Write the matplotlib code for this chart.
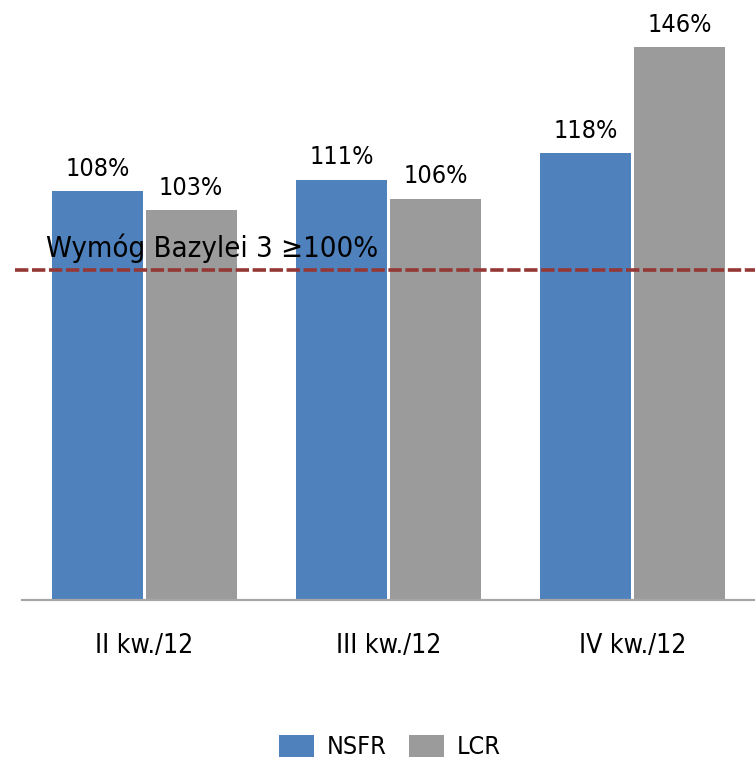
import matplotlib
matplotlib.use("Agg")
import matplotlib.pyplot as plt
from matplotlib import font_manager
import matplotlib.transforms as mtransforms
import numpy as np

# ---- data ----
categories = ["II kw./12", "III kw./12", "IV kw./12"]
series_names = ["NSFR", "LCR"]
nsfr = [108, 111, 118]
lcr = [103, 106, 146]
threshold_label = "Wymóg Bazylei 3 ≥100%"
threshold_line_value = 87.3   # where the dashed line is drawn on the picture

cond = [f for f in font_manager.fontManager.ttflist
        if f.name == "DejaVu Sans" and f.stretch == "condensed" and f.weight in (400, "normal")]
if cond:
    plt.rcParams["font.family"] = ["DejaVu Sans"]
    plt.rcParams["font.stretch"] = "condensed"
    fs_val, fs_tick, fs_leg, fs_lab = 18, 19, 18, 21
else:
    plt.rcParams["font.family"] = ["Liberation Sans", "DejaVu Sans"]
    fs_val, fs_tick, fs_leg, fs_lab = 18, 19, 18, 22

blue = "#4F81BD"
gray = "#9B9B9B"
red = "#953735"

fig = plt.figure(figsize=(7.55, 7.62), dpi=100)
ax = fig.add_axes([22/755, 162/762, 733/755, 600/762])

x = np.arange(len(categories))
w = 0.372
off = 0.192
b1 = ax.bar(x - off, nsfr, w, color=blue, label=series_names[0])
b2 = ax.bar(x + off, lcr, w, color=gray, label=series_names[1])

for bars, vals in ((b1, nsfr), (b2, lcr)):
    for r, v in zip(bars, vals):
        ax.annotate(f"{v}%", (r.get_x() + r.get_width()/2, v), xytext=(0, 7.5),
                    textcoords="offset points", ha="center", va="bottom", fontsize=fs_val)

ax.set_xlim(-0.5, 2.5)
ax.set_ylim(0, 158.5)
ax.set_yticks([])
ax.set_xticks(x)
ax.set_xticklabels(categories, fontsize=fs_tick)
ax.tick_params(axis="x", length=0, pad=24)
for s in ("top", "right", "left"):
    ax.spines[s].set_visible(False)
ax.spines["bottom"].set_color("#A6A6A6")
ax.spines["bottom"].set_linewidth(1.6)

trans = mtransforms.blended_transform_factory(ax.transAxes, ax.transData)
ax.plot([-0.0095, 1.0], [threshold_line_value, threshold_line_value], transform=trans,
        color=red, lw=2.6, dashes=(3.7, 1.0), dash_capstyle="butt", clip_on=False, zorder=3)
ax.text(0.0327, 90.6, threshold_label, transform=trans, fontsize=fs_lab, va="baseline",
        ha="left", zorder=4)

leg = fig.legend(handles=[b1, b2], labels=series_names, loc="center",
                 bbox_to_anchor=(390/755, 1 - 747/762), ncol=2, frameon=False,
                 fontsize=fs_leg, handlelength=1.4, handleheight=1.0, columnspacing=0.9,
                 handletextpad=0.5)

fig.savefig("out.png", dpi=100)
